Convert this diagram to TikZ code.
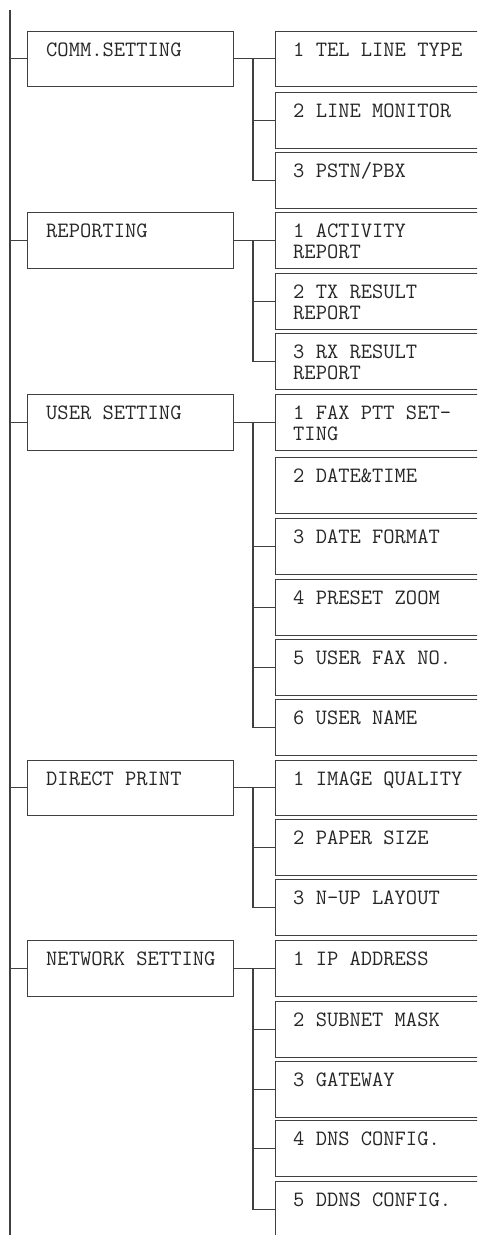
\documentclass[tikz,border=0pt]{standalone}
\usepackage{fontspec}
\begin{document}
\begin{tikzpicture}[x=1pt,y=-1pt,
  ln/.style={draw=black!75,line width=1.1pt},
  pbox/.style={ln,rectangle,anchor=north west,inner sep=0pt,minimum width=206pt,minimum height=55.5pt},
  cbox/.style={ln,rectangle,anchor=north west,inner sep=0pt,minimum width=240pt,minimum height=55.5pt},
  lbl/.style={anchor=base west,inner sep=0pt,align=left,text=black!85,
    font=\fontsize{21.9}{21}\selectfont\ttfamily}]
\useasboundingbox (0,0) rectangle (477,1235);
\clip (0,0) rectangle (477,1235);
\newcommand\mkchild[3]{%
  \node[cbox] (#1) at (275,#2) {};
  \node[lbl] (#1t) at ([xshift=18pt,yshift=-25.5pt]#1.north west) {#3};}
\newcommand\mkchildtwo[3]{%
  \node[cbox] (#1) at (275,#2) {};
  \node[lbl] (#1t) at ([xshift=18pt,yshift=-46.5pt]#1.north west) {#3};}
\newcommand\mkparent[3]{%
  \node[pbox] (#1) at (27,#2) {};
  \node[lbl] (#1t) at ([xshift=19pt,yshift=-25.5pt]#1.north west) {#3};}
% main spine
\coordinate (top) at (10,9.5);
\coordinate (bot) at (10,1240);
\coordinate (bx) at (253,0);
\draw[ln] (top) -- (bot);
% COMM.SETTING
\mkparent{comm}{30.5}{COMM.SETTING}
\mkchild{c1}{30.5}{1 TEL LINE TYPE}
\mkchild{c2}{92}{2 LINE MONITOR}
\mkchild{c3}{152}{3 PSTN/PBX}
% REPORTING
\mkparent{rep}{212}{REPORTING}
\mkchildtwo{r1}{212}{1 ACTIVITY\\REPORT}
\mkchildtwo{r2}{273}{2 TX RESULT\\REPORT}
\mkchildtwo{r3}{333}{3 RX RESULT\\REPORT}
% USER SETTING
\mkparent{usr}{394}{USER SETTING}
\mkchildtwo{u1}{394}{1 FAX PTT SET-\\TING}
\mkchild{u2}{457}{2 DATE\&TIME}
\mkchild{u3}{518}{3 DATE FORMAT}
\mkchild{u4}{579}{4 PRESET ZOOM}
\mkchild{u5}{639}{5 USER FAX NO.}
\mkchild{u6}{699}{6 USER NAME}
% DIRECT PRINT
\mkparent{dp}{759.5}{DIRECT PRINT}
\mkchild{d1}{759.5}{1 IMAGE QUALITY}
\mkchild{d2}{819}{2 PAPER SIZE}
\mkchild{d3}{879}{3 N-UP LAYOUT}
% NETWORK SETTING
\mkparent{net}{940}{NETWORK SETTING}
\mkchild{n1}{940}{1 IP ADDRESS}
\mkchild{n2}{1001}{2 SUBNET MASK}
\mkchild{n3}{1061}{3 GATEWAY}
\mkchild{n4}{1120}{4 DNS CONFIG.}
\mkchild{n5}{1181}{5 DDNS CONFIG.}
% ticks from spine
\foreach \p in {comm,rep,usr,dp,net}
  \draw[ln] (\p.west -| top) -- (\p.west);
% branches
\draw[ln] (comm.east) -- (c1.west);
\draw[ln] (comm.east -| bx) |- (c3.west);
\draw[ln] (c2.west -| bx) -- (c2.west);
\draw[ln] (rep.east) -- (r1.west);
\draw[ln] (rep.east -| bx) |- (r3.west);
\draw[ln] (r2.west -| bx) -- (r2.west);
\draw[ln] (usr.east) -- (u1.west);
\draw[ln] (usr.east -| bx) |- (u6.west);
\foreach \c in {u3,u4,u5}
  \draw[ln] (\c.west -| bx) -- (\c.west);
\draw[ln] (dp.east) -- (d1.west);
\draw[ln] (dp.east -| bx) |- (d3.west);
\draw[ln] (d2.west -| bx) -- (d2.west);
\draw[ln] (net.east) -- (n1.west);
\draw[ln] (net.east -| bx) |- (n5.west);
\foreach \c in {n2,n3,n4}
  \draw[ln] (\c.west -| bx) -- (\c.west);
\end{tikzpicture}
\end{document}
